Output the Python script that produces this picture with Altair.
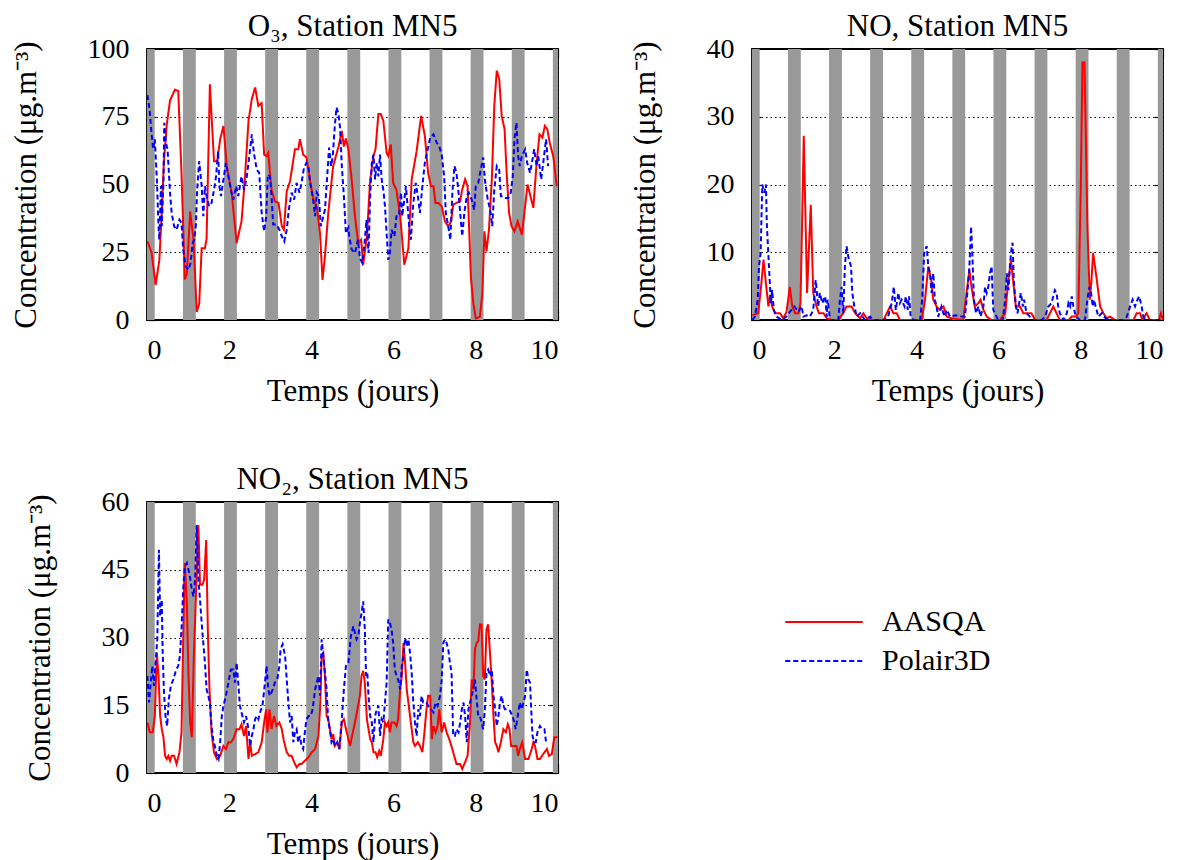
import altair as alt
import pandas as pd

FONT = "Liberation Serif"
SERIES = ["AASQA", "Polair3D"]

# Night periods (grey bands), in days
night_start = [0.0, 0.875, 1.875, 2.875, 3.875, 4.875, 5.875, 6.875, 7.875, 8.875, 9.875]
night_end = [0.1875, 1.1875, 2.1875, 3.1875, 4.1875, 5.1875, 6.1875, 7.1875, 8.1875, 9.1875, 10.0]

# ---------------- O3 ----------------
o3_aasqa_t = [0.01, 0.11, 0.21, 0.30, 0.36, 0.41, 0.48, 0.56, 0.68, 0.76, 0.84, 0.92, 0.97, 1.05, 1.13, 1.21, 1.27, 1.33, 1.41, 1.45,
              1.53, 1.63, 1.71, 1.78, 1.86, 1.94, 2.06, 2.18, 2.30, 2.38, 2.47, 2.55, 2.63, 2.71, 2.79, 2.85, 2.91, 2.95, 3.03, 3.11,
              3.20, 3.28, 3.33, 3.40, 3.48, 3.60, 3.68, 3.72, 3.80, 3.88, 3.97, 4.05, 4.13, 4.21, 4.27, 4.33, 4.41, 4.53, 4.66, 4.74,
              4.79, 4.84, 4.90, 4.98, 5.06, 5.14, 5.21, 5.26, 5.35, 5.43, 5.51, 5.56, 5.63, 5.69, 5.75, 5.83, 5.87, 5.93, 5.99, 6.07,
              6.16, 6.21, 6.26, 6.36, 6.44, 6.56, 6.67, 6.76, 6.84, 6.91, 6.97, 7.02, 7.09, 7.17, 7.25, 7.33, 7.40, 7.45, 7.53, 7.62,
              7.66, 7.74, 7.80, 7.88, 7.94, 8.00, 8.10, 8.16, 8.21, 8.26, 8.32, 8.39, 8.45, 8.51, 8.57, 8.63, 8.70, 8.75, 8.81, 8.87,
              8.94, 9.02, 9.12, 9.20, 9.26, 9.32, 9.40, 9.48, 9.55, 9.62, 9.68, 9.74, 9.80, 9.89, 9.97]
o3_aasqa_v = [29, 25, 13, 22, 40, 58, 72, 81, 85, 84.5, 54, 15, 17, 40, 30, 3, 6, 26.5, 26.5, 30,
              87, 58.6, 58.6, 66.7, 71.6, 56.8, 47, 28.4, 36.4, 51.9, 73.5, 81.5, 85.8, 79, 80, 61, 60.5, 61.7, 48, 43.8,
              43.2, 34.6, 33.3, 47.5, 51.2, 63, 63, 66.7, 61, 60, 51.2, 44.4, 42, 32, 14.8, 23.5, 39.5, 56.8, 64, 69.8,
              64, 67, 63, 51.9, 38.3, 28.4, 29.6, 20.4, 30.9, 51.9, 60.5, 63, 76, 76, 73.5, 61.7, 60.5, 64.8, 50.6, 48,
              38.3, 29.6, 20.4, 26.5, 51.9, 62.3, 75.3, 68, 54.3, 49.4, 49.4, 43.2, 43.2, 42, 36.4, 34.6, 36.4, 42.6, 43.2, 43.8,
              47.5, 51.9, 49.4, 16, 6.2, 0.6, 1.2, 9.9, 32.7, 25.3, 33.3, 51.9, 79, 92, 88.9, 75.3, 70.4, 54.3, 39.5, 34.6,
              32.7, 36.4, 31.5, 42, 50, 46.3, 41.4, 58, 68.5, 67.3, 71.6, 70.4, 65.4, 60, 49.4]

o3_polair_t = [0.01, 0.06, 0.11, 0.15, 0.19, 0.24, 0.28, 0.30, 0.34, 0.36, 0.40, 0.42, 0.46, 0.50, 0.56, 0.60, 0.66, 0.72, 0.79, 0.84,
               0.88, 0.94, 1.01, 1.06, 1.11, 1.15, 1.19, 1.22, 1.27, 1.33, 1.37, 1.41, 1.45, 1.51, 1.57, 1.63, 1.68, 1.73, 1.76, 1.80,
               1.86, 1.92, 1.98, 2.04, 2.10, 2.17, 2.22, 2.30, 2.36, 2.42, 2.49, 2.55, 2.60, 2.67, 2.73, 2.79, 2.85, 2.90, 2.94, 2.99,
               3.03, 3.07, 3.15, 3.22, 3.28, 3.34, 3.40, 3.45, 3.52, 3.58, 3.64, 3.71, 3.76, 3.82, 3.88, 3.93, 3.97, 4.03, 4.09, 4.13,
               4.18, 4.23, 4.27, 4.33, 4.39, 4.43, 4.48, 4.52, 4.57, 4.61, 4.66, 4.70, 4.74, 4.79, 4.84, 4.90, 4.92, 4.98, 5.06, 5.13,
               5.18, 5.24, 5.30, 5.34, 5.39, 5.43, 5.47, 5.51, 5.55, 5.59, 5.63, 5.67, 5.71, 5.75, 5.79, 5.83, 5.87, 5.91, 5.95, 6.02,
               6.07, 6.13, 6.18, 6.21, 6.26, 6.30, 6.34, 6.38, 6.42, 6.48, 6.54, 6.59, 6.64, 6.70, 6.76, 6.83, 6.89, 6.97, 7.05, 7.11,
               7.17, 7.23, 7.27, 7.33, 7.38, 7.43, 7.48, 7.53, 7.58, 7.62, 7.67, 7.72, 7.78, 7.83, 7.90, 7.96, 8.00, 8.06, 8.12, 8.18,
               8.22, 8.29, 8.35, 8.40, 8.45, 8.51, 8.57, 8.61, 8.67, 8.73, 8.79, 8.85, 8.90, 8.94, 8.99, 9.03, 9.07, 9.12, 9.20, 9.25,
               9.32, 9.38, 9.42, 9.48, 9.52, 9.59, 9.64, 9.71, 9.76]
o3_polair_v = [83, 77.8, 69, 63, 66.7, 51.9, 34.6, 29.6, 49.4, 34.6, 50.6, 72.8, 65.4, 63, 47, 39.5, 34.6, 33.3, 37, 35.8,
               26, 19.8, 18.5, 21, 28.4, 29.6, 35.2, 48, 58.6, 49.4, 38.3, 49.4, 45.7, 42, 43.2, 48, 53, 62.3, 49.4, 45.7,
               51.9, 58, 53, 48, 44.4, 49.4, 45.7, 53, 48, 51.9, 60.5, 68.5, 61.7, 55.5, 54.3, 39.5, 32.7, 38.3, 53.7, 53,
               45.7, 35.2, 35.2, 33.3, 30.9, 29, 33.3, 40.7, 47, 44.4, 50.6, 47, 50.6, 56.2, 58, 56.2, 50.6, 45.7, 38.3, 47,
               45.7, 34.6, 37, 40.7, 54.3, 63.6, 56.8, 60.5, 71.6, 78.4, 76, 70.4, 56.8, 45.7, 32, 34, 30.9, 26, 24.7, 29.6,
               22.8, 21, 29.6, 37, 24.7, 45.7, 58, 61, 51.9, 58, 53, 61, 51.9, 48, 42, 32, 22.2, 24.7, 33.3, 30.9,
               38.3, 38.3, 47, 38.3, 44.4, 49.4, 42, 34.6, 29.6, 43.2, 50.6, 45.7, 39.5, 49.4, 58, 63, 67.3, 68.5, 65.4, 64.2,
               61, 53, 39.5, 34.6, 29.6, 47, 56.8, 54.3, 47, 39.5, 30.9, 39.5, 45.7, 47, 44.4, 40.7, 49.4, 50.6, 55.5, 60,
               51.9, 44.4, 40.7, 34.6, 48, 56.8, 55.5, 45.7, 45.7, 45, 45, 47, 53, 66.7, 72.8, 60.5, 56.8, 60.5, 63, 58,
               54.3, 59.3, 63, 56.8, 60.5, 51.9, 58, 66.7, 56.8]

# ---------------- NO ----------------
no_aasqa_t = [0.01, 0.15, 0.22, 0.28, 0.33, 0.40, 0.44, 0.49, 0.56, 0.68, 0.76, 0.84, 0.92, 0.98, 1.05, 1.13, 1.18, 1.26, 1.34, 1.43,
              1.49, 1.57, 1.63, 1.74, 1.82, 1.94, 2.10, 2.22, 2.30, 2.42, 2.51, 2.63, 2.71, 2.79, 2.91, 3.20, 3.28, 3.36, 3.44, 3.52,
              3.60, 3.88, 4.13, 4.21, 4.29, 4.36, 4.41, 4.49, 4.57, 4.66, 4.74, 4.86, 5.14, 5.22, 5.29, 5.34, 5.42, 5.51, 5.56, 5.63,
              5.71, 5.83, 6.03, 6.16, 6.24, 6.30, 6.36, 6.42, 6.52, 6.60, 6.80, 6.89, 7.17, 7.25, 7.33, 7.41, 7.49, 7.70, 7.78, 7.88,
              7.94, 8.00, 8.04, 8.09, 8.16, 8.22, 8.26, 8.30, 8.39, 8.47, 8.55, 8.63, 8.71, 8.83, 9.28, 9.36, 9.44, 9.50, 9.60, 9.68,
              9.90, 9.95, 10.0]
no_aasqa_v = [0.7, 1, 4.9, 8.9, 5.9, 2, 3.7, 2, 1, 1, 0.25, 1.2, 4.9, 2, 1, 1, 2.5, 27.2, 4, 17,
              4, 2, 1, 1, 0.25, 0, 0, 1, 2, 2, 1, 0.25, 1, 0.25, 0, 0, 1, 2, 1, 1,
              0, 0, 0, 3, 7.9, 5.9, 3, 2, 1.5, 2, 0.5, 0.25, 0, 4, 7.4, 4.9, 2, 2.5, 3, 1.5,
              0.5, 0, 0, 1, 5.9, 8.9, 5.4, 2, 2, 1, 1, 0, 0, 1, 2, 1, 0, 0, 0.5, 0.5,
              1, 19.8, 38, 38, 13.8, 3, 5.9, 9.9, 5.9, 2, 1, 0.25, 0.5, 0, 0, 1, 1, 0, 1, 0,
              0, 1, 0]

no_polair_t = [0.01, 0.07, 0.14, 0.17, 0.21, 0.25, 0.30, 0.34, 0.36, 0.40, 0.43, 0.46, 0.49, 0.53, 0.60, 0.72, 0.84, 0.92, 1.03, 1.13,
               1.21, 1.25, 1.33, 1.41, 1.49, 1.55, 1.61, 1.65, 1.71, 1.78, 1.82, 1.84, 1.90, 2.10, 2.14, 2.18, 2.22, 2.26, 2.30, 2.34,
               2.41, 2.44, 2.49, 2.55, 2.63, 2.75, 2.87, 2.95, 3.24, 3.32, 3.40, 3.45, 3.50, 3.56, 3.60, 3.64, 3.71, 3.74, 3.79, 3.82,
               3.86, 3.93, 4.09, 4.14, 4.19, 4.25, 4.29, 4.33, 4.37, 4.41, 4.45, 4.49, 4.53, 4.61, 4.68, 4.74, 4.82, 4.94, 5.10, 5.18,
               5.24, 5.29, 5.33, 5.36, 5.40, 5.45, 5.51, 5.56, 5.63, 5.67, 5.71, 5.75, 5.79, 5.83, 5.87, 5.91, 5.99, 6.10, 6.16, 6.20,
               6.24, 6.28, 6.32, 6.34, 6.37, 6.42, 6.46, 6.50, 6.54, 6.59, 6.62, 6.68, 6.76, 6.84, 7.05, 7.13, 7.21, 7.29, 7.33, 7.37,
               7.41, 7.45, 7.49, 7.58, 7.66, 7.70, 7.74, 7.78, 7.82, 7.88, 7.98, 8.10, 8.16, 8.21, 8.25, 8.29, 8.32, 8.36, 8.43, 8.51,
               8.56, 8.67, 9.03, 9.12, 9.20, 9.26, 9.32, 9.38, 9.42, 9.48, 9.52, 9.60, 10.0]
no_polair_v = [0, 0.5, 3, 7.9, 9.9, 20, 18.8, 20, 14.3, 9.4, 5.9, 2.5, 4.4, 1.5, 0.5, 0, 0.5, 1.2, 2, 1.2,
               2, 0.5, 0.7, 0.5, 1.5, 5.9, 2, 4, 2.5, 3.5, 0.5, 3, 0, 0, 3, 4.9, 1, 7.9, 10.9, 9.4,
               7.9, 4, 2, 0.5, 1, 0, 0.5, 0, 0, 0.7, 2.5, 4.9, 1.5, 4, 2.5, 3, 2, 3.5, 1.5, 3.5,
               0.5, 0, 0, 3, 9.9, 10.9, 7.9, 6.9, 4, 6.9, 3, 2, 0.5, 2, 0.5, 1.5, 0.5, 0.7, 0.5, 0.5,
               4, 7.9, 13.8, 9.9, 3, 1, 2, 0.5, 2, 4.9, 4, 4.9, 6.9, 7.9, 1.5, 1, 0, 0, 3, 6.9,
               4.4, 8.4, 10.9, 11.4, 5.9, 2, 1, 2.5, 4, 2, 3, 1, 0.5, 0, 0, 0.5, 2, 2.5, 3.5, 4.4,
               4, 2, 1, 0, 1, 2.5, 2, 3.5, 2, 0.5, 0, 0, 3, 4.9, 4, 2, 3, 2, 0.5, 1,
               0.5, 0, 0, 0.5, 2, 3, 2, 3, 3.5, 2, 0.5, 0, 0]

# ---------------- NO2 ----------------
no2_aasqa_t = [0.01, 0.07, 0.14, 0.19, 0.24, 0.28, 0.32, 0.36, 0.40, 0.44, 0.48, 0.52, 0.56, 0.60, 0.66, 0.72, 0.79, 0.84, 0.88, 0.92,
               0.97, 1.01, 1.05, 1.09, 1.14, 1.19, 1.22, 1.25, 1.29, 1.35, 1.39, 1.44, 1.48, 1.52, 1.57, 1.63, 1.70, 1.78, 1.86, 1.92,
               1.98, 2.04, 2.10, 2.18, 2.25, 2.30, 2.36, 2.41, 2.47, 2.51, 2.55, 2.63, 2.71, 2.79, 2.85, 2.90, 2.93, 2.98, 3.03, 3.09,
               3.15, 3.22, 3.28, 3.33, 3.40, 3.46, 3.52, 3.58, 3.64, 3.71, 3.76, 3.84, 3.93, 4.01, 4.09, 4.17, 4.21, 4.25, 4.29, 4.33,
               4.37, 4.41, 4.45, 4.49, 4.53, 4.57, 4.63, 4.68, 4.74, 4.79, 4.86, 4.94, 4.99, 5.06, 5.12, 5.18, 5.22, 5.26, 5.30, 5.35,
               5.39, 5.43, 5.47, 5.51, 5.56, 5.60, 5.65, 5.69, 5.75, 5.79, 5.83, 5.87, 5.91, 5.95, 6.02, 6.07, 6.11, 6.16, 6.20, 6.24,
               6.28, 6.32, 6.36, 6.40, 6.44, 6.48, 6.52, 6.59, 6.64, 6.70, 6.75, 6.80, 6.84, 6.89, 6.93, 6.97, 7.02, 7.07, 7.11, 7.17,
               7.23, 7.29, 7.37, 7.45, 7.53, 7.62, 7.67, 7.74, 7.80, 7.86, 7.90, 7.94, 7.98, 8.02, 8.06, 8.10, 8.14, 8.18, 8.22, 8.26,
               8.30, 8.35, 8.39, 8.43, 8.47, 8.51, 8.55, 8.61, 8.67, 8.73, 8.78, 8.82, 8.86, 8.94, 8.99, 9.03, 9.07, 9.13, 9.20, 9.28,
               9.36, 9.40, 9.44, 9.50, 9.56, 9.64, 9.73, 9.78, 9.85, 9.91, 9.99]
no2_aasqa_v = [11.2, 9, 9, 12.6, 26.6, 21.5, 12.6, 9.7, 7.9, 3.8, 3.1, 3.8, 2.7, 3.8, 3.8, 2, 4.6, 9, 29.6, 46.5,
               37.6, 21.5, 11.2, 7.9, 25.9, 39.1, 46.5, 54.9, 41.7, 41.7, 42.8, 51.6, 31.8, 18.5, 9, 4.6, 3.1, 3.8, 6, 5.3,
               6.8, 6.8, 7.5, 9.7, 9.7, 10.8, 8.2, 10.4, 3.1, 6.8, 3.8, 4.2, 4.6, 6.8, 11.2, 14.1, 9, 14.1, 9.7, 12.6,
               10.4, 11.2, 9.7, 7.1, 4.6, 3.8, 3.8, 2.4, 1.25, 2, 2, 2.7, 3.5, 4.6, 5.3, 8.2, 14.1, 25.9, 26.6, 21.5,
               12.6, 11.9, 9.7, 7.5, 8.6, 6, 6.8, 5.3, 11.2, 11.9, 9, 6, 8.2, 11.2, 14.1, 17.1, 21.5, 22.6, 20, 11.9,
               9.7, 7.5, 6.8, 4.6, 4.6, 3.5, 4.9, 3.8, 7.5, 11.2, 10.4, 11.2, 9, 11.2, 11.2, 10.4, 11.9, 18.5, 21.5, 28.8,
               24.4, 18.5, 15.6, 12.6, 9.7, 6.8, 6, 6.8, 6, 4.6, 9, 14.1, 17.1, 17.1, 7.5, 10.4, 9, 10.4, 14.1, 9,
               11.2, 9, 7.1, 4.6, 2, 2, 0.9, 2.4, 3.8, 11.2, 20.7, 18.5, 27.4, 28.8, 29.2, 32.9, 32.9, 21.5, 20.7, 31.8,
               32.9, 25.9, 20, 12.6, 6.8, 6, 4.6, 6.8, 9.7, 9, 10.8, 9.7, 6, 6, 6, 3.8, 5.3, 6.8, 3.1, 3.1,
               5.3, 6.8, 6, 3.1, 3.1, 4.2, 5.3, 3.8, 4.2, 7.9, 7.9]

no2_polair_t = [0.01, 0.05, 0.09, 0.13, 0.17, 0.21, 0.25, 0.29, 0.32, 0.36, 0.38, 0.41, 0.45, 0.49, 0.53, 0.58, 0.64, 0.71, 0.76, 0.80,
                0.84, 0.88, 0.92, 0.97, 1.01, 1.05, 1.09, 1.13, 1.17, 1.21, 1.25, 1.29, 1.33, 1.37, 1.41, 1.45, 1.49, 1.53, 1.57, 1.61,
                1.65, 1.70, 1.74, 1.78, 1.82, 1.86, 1.92, 1.98, 2.04, 2.10, 2.14, 2.18, 2.22, 2.26, 2.30, 2.36, 2.41, 2.47, 2.51, 2.55,
                2.59, 2.63, 2.67, 2.71, 2.75, 2.81, 2.87, 2.91, 2.95, 2.99, 3.06, 3.11, 3.17, 3.22, 3.25, 3.30, 3.36, 3.40, 3.44, 3.48,
                3.52, 3.56, 3.60, 3.64, 3.68, 3.72, 3.76, 3.80, 3.84, 3.88, 3.93, 3.98, 4.03, 4.09, 4.13, 4.17, 4.21, 4.25, 4.29, 4.33,
                4.37, 4.41, 4.45, 4.49, 4.53, 4.57, 4.63, 4.68, 4.74, 4.79, 4.84, 4.90, 4.96, 5.02, 5.06, 5.10, 5.14, 5.18, 5.22, 5.26,
                5.30, 5.33, 5.36, 5.39, 5.43, 5.47, 5.51, 5.55, 5.59, 5.63, 5.67, 5.71, 5.75, 5.79, 5.83, 5.87, 5.91, 5.95, 5.99, 6.03,
                6.07, 6.11, 6.16, 6.20, 6.24, 6.28, 6.32, 6.36, 6.40, 6.44, 6.48, 6.52, 6.56, 6.60, 6.64, 6.68, 6.72, 6.80, 6.84, 6.91,
                6.97, 7.02, 7.07, 7.13, 7.17, 7.21, 7.25, 7.29, 7.33, 7.37, 7.41, 7.45, 7.49, 7.53, 7.58, 7.62, 7.66, 7.70, 7.74, 7.78,
                7.82, 7.86, 7.90, 7.94, 7.98, 8.02, 8.06, 8.10, 8.14, 8.18, 8.22, 8.26, 8.30, 8.35, 8.39, 8.43, 8.47, 8.51, 8.55, 8.59,
                8.63, 8.67, 8.71, 8.77, 8.83, 8.89, 8.94, 8.97, 9.02, 9.07, 9.12, 9.16, 9.20, 9.24, 9.28, 9.32, 9.34, 9.38, 9.42, 9.46,
                9.50, 9.56, 9.62, 9.67, 9.71]
no2_polair_v = [21.5, 15.6, 20, 23.7, 19.3, 24.4, 29.6, 49.4, 34.7, 38.4, 27.4, 18.5, 12.6, 10.4, 16.3, 19.3, 20.7, 22.9, 23.7, 25.9,
                31.8, 40.6, 45.7, 46.5, 45, 43.2, 40.6, 39.1, 42.8, 54.9, 42.8, 38.4, 33.2, 28.8, 24.4, 18.5, 17.1, 15.6, 10.4, 7.5,
                6, 3.8, 3.1, 6.8, 12.6, 14.9, 17.1, 20, 22.9, 22.9, 20, 24.4, 20, 14.9, 13.4, 11.2, 12.6, 9.7, 6, 8.2,
                9.7, 11.9, 12.6, 11.9, 13.4, 14.9, 20, 23.7, 18.5, 17.1, 18.5, 20, 20.7, 23.7, 27.4, 28.5, 25.9, 20.7, 15.6, 11.2,
                12.6, 6.8, 9, 9.7, 6.8, 8.2, 6, 5.3, 9, 11.9, 12.6, 12.6, 14.1, 18.5, 20, 21.5, 17.1, 29.6, 25.9, 22.2,
                18.5, 11.2, 9.7, 6.8, 7.5, 6, 6.8, 5.3, 11.9, 18.5, 23.7, 24.4, 30.3, 32.5, 31, 29.6, 30.3, 33.2, 35.4, 38,
                31.8, 21.5, 22.2, 17.1, 12.6, 11.2, 6.8, 12.6, 14.1, 14.9, 8.2, 11.9, 11.2, 15.6, 20, 34, 33.2, 31.8, 28.8, 22.9,
                21.5, 20.7, 18.5, 23.7, 25.9, 29.9, 28.1, 29.6, 26.6, 22.2, 15.6, 11.2, 8.2, 14.1, 12.6, 17.1, 15.6, 15.6, 14.9, 14.1,
                13.4, 15.6, 14.9, 17.1, 20.7, 28.8, 29.6, 28.8, 27.4, 24.4, 22.2, 8.2, 8.2, 9.7, 9, 11.2, 14.1, 15.6, 12.6, 6.8,
                14.1, 15.6, 17.1, 18.5, 20.7, 16.3, 12.6, 12.6, 11.2, 9.7, 14.1, 22.2, 22.9, 21.5, 22.9, 17.1, 14.1, 10.4, 12.6, 15.6,
                17.1, 14.9, 14.1, 14.1, 13.8, 12.6, 11.2, 9.7, 12.6, 15.6, 14.1, 15.6, 17.1, 22.9, 20.7, 20, 15.6, 8.2, 6.8, 6.8,
                9, 10.4, 9.7, 9.7, 6.8]


def make_df(t_a, v_a, t_p, v_p):
    return pd.concat([
        pd.DataFrame({"t": t_a, "v": v_a, "serie": SERIES[0]}),
        pd.DataFrame({"t": t_p, "v": v_p, "serie": SERIES[1]}),
    ], ignore_index=True)


nights = pd.DataFrame({"start": night_start, "end": night_end})

legend_props = dict(title=None, orient="none", legendX=637, legendY=559,
                    symbolType="stroke", symbolSize=6000, symbolStrokeWidth=2,
                    labelFont=FONT, labelFontSize=30, labelOffset=18, padding=0,
                    clipHeight=28, rowPadding=9)

color = alt.Color("serie:N", scale=alt.Scale(domain=SERIES, range=["#ff0000", "#0000ff"]),
                  legend=alt.Legend(**legend_props))
dash = alt.StrokeDash("serie:N", scale=alt.Scale(domain=SERIES, range=[[1, 0], [5, 3]]),
                      legend=alt.Legend(**legend_props))

W, H = 411, 271
YTITLE = "Concentration (μg.m⁻³)"
TICK = 9
TITLE_SIZE = 31


def tick_axis(values, orient):
    # inward-pointing tick marks only (gnuplot style)
    return alt.Axis(values=values, orient=orient, title=None, labels=False, grid=False,
                    ticks=True, tickSize=TICK, offset=-TICK)


def panel(df, title, ymax, yvals):
    xvals = [0, 2, 4, 6, 8, 10]
    xs = alt.Scale(domain=[0, 10], nice=False, zero=False)
    ys = alt.Scale(domain=[0, ymax], nice=False)
    xaxis = alt.Axis(values=xvals, title="Temps (jours)", format="d", orient="bottom",
                     grid=True, ticks=False, offset=0)
    yaxis = alt.Axis(values=yvals, title=YTITLE, format="d", orient="left",
                     grid=True, ticks=False, offset=0)
    bands = alt.Chart(nights).mark_rect(color="#999999").encode(
        x=alt.X("start:Q", scale=xs, axis=xaxis),
        x2="end:Q",
    )
    lines = alt.Chart(df).mark_line(strokeWidth=2, clip=True).encode(
        x=alt.X("t:Q", scale=xs, axis=tick_axis(xvals, "top")),
        y=alt.Y("v:Q", scale=ys, axis=yaxis),
        color=color,
        strokeDash=dash,
        order=alt.Order("t:Q"),
    )
    ticks_a = alt.Chart(df).mark_point(opacity=0).encode(
        x=alt.X("t:Q", scale=xs, axis=tick_axis(xvals, "bottom")),
        y=alt.Y("v:Q", scale=ys, axis=tick_axis(yvals, "right")),
    )
    ticks_b = alt.Chart(df).mark_point(opacity=0).encode(
        x=alt.X("t:Q", scale=xs, axis=None),
        y=alt.Y("v:Q", scale=ys, axis=tick_axis(yvals, "left")),
    )
    return alt.layer(bands, lines, ticks_a, ticks_b).resolve_axis(x="independent", y="independent").properties(
        width=W, height=H,
        title=alt.TitleParams(text=title, font=FONT, fontSize=TITLE_SIZE, fontWeight="normal", offset=-8),
    )


p_o3 = panel(make_df(o3_aasqa_t, o3_aasqa_v, o3_polair_t, o3_polair_v), "O₃, Station MN5", 100, [0, 25, 50, 75, 100])
p_no = panel(make_df(no_aasqa_t, no_aasqa_v, no_polair_t, no_polair_v), "NO, Station MN5", 40, [0, 10, 20, 30, 40])
p_no2 = panel(make_df(no2_aasqa_t, no2_aasqa_v, no2_polair_t, no2_polair_v), "NO₂, Station MN5", 60, [0, 15, 30, 45, 60])

chart = alt.concat(p_o3, p_no, p_no2, columns=2, spacing={"row": 182, "column": 194}, bounds="flush").properties(
    padding={"left": 1, "top": 2, "right": 5, "bottom": 5},
).configure(
    font=FONT,
).configure_view(
    stroke="black", strokeWidth=1.8,
).configure_axis(
    labelFont=FONT, labelFontSize=28, labelColor="black",
    titleFont=FONT, titleFontSize=TITLE_SIZE, titleFontWeight="normal", titleColor="black",
    gridColor="black", gridDash=[1.5, 3], gridWidth=1, gridOpacity=1,
    domain=False, tickColor="black", tickWidth=1.2, zindex=1,
).configure_axisX(
    labelPadding=16, titlePadding=12,
).configure_axisY(
    labelPadding=18, titlePadding=45,
)

chart.save("out.html", embed_options={"renderer": "svg", "actions": False})
